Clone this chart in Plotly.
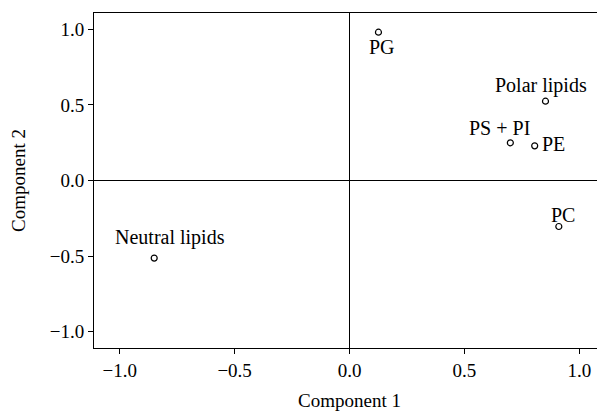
import plotly.graph_objects as go

labels = ["PG", "Polar lipids", "PS + PI", "PE", "PC", "Neutral lipids"]
comp1 = [0.126, 0.853, 0.700, 0.806, 0.911, -0.850]
comp2 = [0.980, 0.524, 0.249, 0.229, -0.304, -0.513]

# label offsets in pixels (style only)
label_dx = [4, -4, -11, 5, 4, 16]
label_dy = [-15, 16, 15, 2, 12, 21]
label_anchor = ["center", "center", "center", "left", "center", "center"]

FONT = "Liberation Serif"
FS = 20
TFS = 19

fig = go.Figure()
fig.add_trace(go.Scatter(
    x=comp1, y=comp2, mode="markers",
    marker=dict(symbol="circle-open", size=6, color="black", line=dict(width=1.2)),
    hoverinfo="skip", showlegend=False,
))

for lab, x, y, dx, dy, anc in zip(labels, comp1, comp2, label_dx, label_dy, label_anchor):
    fig.add_annotation(x=x, y=y, xref="x", yref="y", text=lab, showarrow=False,
                       xanchor=anc, yanchor="middle", xshift=dx, yshift=dy,
                       font=dict(family=FONT, size=FS, color="black"))

axis_common = dict(
    showline=True, linecolor="black", linewidth=1, mirror=True,
    zeroline=True, zerolinecolor="black", zerolinewidth=1,
    showgrid=False, ticks="outside", ticklen=5, tickwidth=1, tickcolor="black",
    tickvals=[-1.0, -0.5, 0.0, 0.5, 1.0], tickformat=".1f",
    tickfont=dict(family=FONT, size=TFS, color="black"),
)
fig.update_xaxes(range=[-1.112, 1.112], title=dict(text="Component 1", font=dict(family=FONT, size=TFS, color="black"), standoff=16), **axis_common)
fig.update_yaxes(range=[-1.107, 1.107], title=dict(text="Component 2", font=dict(family=FONT, size=TFS, color="black"), standoff=19), **axis_common)

# page body has an 8px margin, so the figure is offset by 8px
fig.update_layout(
    width=597, height=403,
    margin=dict(l=86, r=0, t=5, b=63),
    plot_bgcolor="white", paper_bgcolor="white",
    font=dict(family=FONT, size=FS, color="black"),
)
fig.write_html("out.html")
